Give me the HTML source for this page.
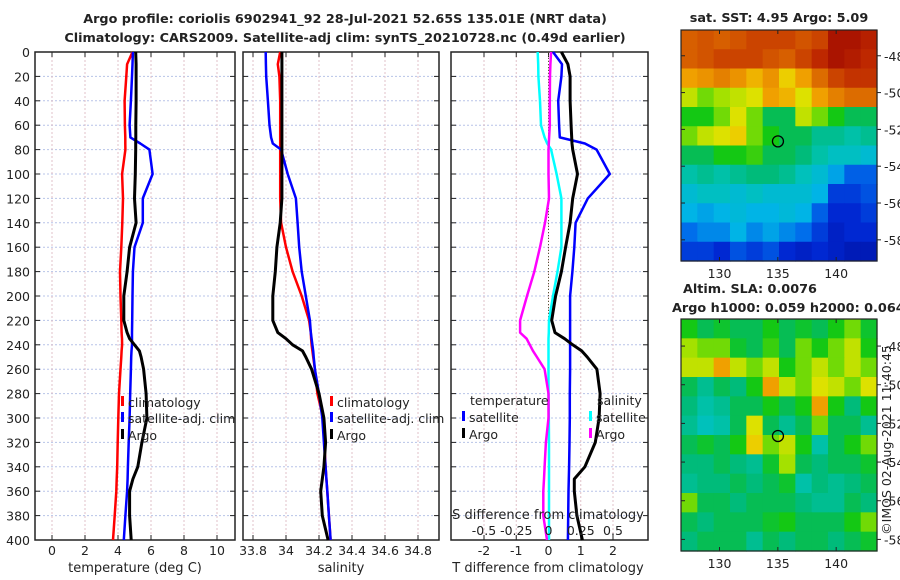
<!DOCTYPE html>
<html><head><meta charset="utf-8">
<style>
html,body{margin:0;padding:0;background:#fff;}
svg{display:block;font-family:"DejaVu Sans","Liberation Sans",sans-serif;}
</style></head>
<body>
<svg id="chart" width="900" height="580" viewBox="0 0 900 580"></svg>
<script>
// ---------- DATA ----------
const depths = [0,10,20,40,60,70,75,80,100,120,140,160,180,200,220,230,235,240,245,250,260,280,300,320,340,350,360,380,400];
const tempClim = [4.88,4.55,4.5,4.4,4.42,4.44,4.44,4.45,4.25,4.3,4.26,4.2,4.12,4.15,4.2,4.22,4.24,4.25,4.22,4.2,4.15,4.06,4.02,3.98,3.95,3.92,3.9,3.8,3.7];
const tempSat = [4.9,4.88,4.85,4.78,4.7,4.75,5.35,5.9,6.1,5.5,5.5,5.0,4.9,4.88,4.86,4.85,4.85,4.85,4.82,4.8,4.78,4.74,4.7,4.65,4.6,4.58,4.55,4.45,4.35];
const tempArgo = [5.07,5.1,5.1,5.1,5.08,5.08,5.07,5.07,5.05,5.0,5.1,4.7,4.55,4.35,4.35,4.55,4.7,5.0,5.3,5.4,5.55,5.7,5.75,5.45,5.2,4.9,4.7,4.7,4.8];
const salClim = [33.965,33.95,33.96,33.965,33.965,33.965,33.965,33.965,33.965,33.965,33.97,34.0,34.04,34.095,34.14,34.15,34.152,34.155,34.16,34.165,34.175,34.19,34.225,34.232,34.24,34.245,34.25,34.26,34.27];
const salSat = [33.877,33.878,33.88,33.89,33.9,33.91,33.92,33.97,34.01,34.06,34.07,34.08,34.095,34.12,34.145,34.15,34.155,34.16,34.165,34.168,34.175,34.2,34.22,34.23,34.24,34.245,34.25,34.26,34.27];
const salArgo = [33.975,33.975,33.975,33.975,33.975,33.975,33.975,33.975,33.975,33.975,33.965,33.945,33.935,33.92,33.92,33.95,34.0,34.04,34.1,34.12,34.155,34.2,34.23,34.24,34.23,34.22,34.21,34.22,34.255];
const dTsat = [0.14,0.42,0.4,0.3,0.33,0.35,1.13,1.49,1.9,1.22,0.84,0.8,0.74,0.67,0.67,0.67,0.67,0.67,0.67,0.67,0.67,0.66,0.66,0.65,0.64,0.63,0.62,0.61,0.6];
const dTargo = [0.4,0.6,0.67,0.67,0.7,0.72,0.73,0.75,0.9,0.75,0.67,0.53,0.4,0.22,0.1,0.2,0.5,0.75,1.03,1.2,1.5,1.6,1.57,1.45,1.13,0.8,0.8,0.88,1.05];
const dSsat = [-0.084,-0.08,-0.078,-0.066,-0.058,-0.03,-0.01,0.02,0.063,0.1,0.1,0.1,0.07,0.035,0.004,0.002,0.0,0.0,0.0,0.0,0.0,0.0,0.002,0.004,0.004,0.004,0.004,0.004,0.004];
const dSargo = [0.02,0.015,0.012,0.01,0.01,0.005,0.002,0.0,0.0,0.004,-0.027,-0.066,-0.11,-0.167,-0.22,-0.22,-0.17,-0.145,-0.12,-0.09,-0.03,0.0,0.0,-0.02,-0.03,-0.035,-0.04,-0.04,-0.012];
const depthTicks = [0,20,40,60,80,100,120,140,160,180,200,220,240,260,280,300,320,340,360,380,400];
const tempTicks = [0,2,4,6,8,10];
const salTicks = [33.8,34,34.2,34.4,34.6,34.8];
const salTickLabels = ["33.8","34","34.2","34.4","34.6","34.8"];
const dTTicks = [-2,-1,0,1,2];
const dSTicks = [-0.5,-0.25,0,0.25,0.5];
const dSTickLabels = ["-0.5","-0.25","0","0.25","0.5"];
const lonTicks = [130,135,140];
const latTicks = [-48,-50,-52,-54,-56,-58];
const argoLon = 135.01, argoLat = -52.65;
const sstGrid = [
[0.8,0.82,0.8,0.82,0.85,0.85,0.85,0.82,0.85,0.95,0.95,0.92],
[0.8,0.82,0.85,0.85,0.85,0.82,0.8,0.85,0.9,0.95,0.93,0.9],
[0.7,0.72,0.75,0.72,0.68,0.72,0.65,0.7,0.78,0.85,0.88,0.88],
[0.6,0.55,0.58,0.6,0.62,0.7,0.68,0.62,0.7,0.75,0.78,0.78],
[0.5,0.5,0.55,0.62,0.55,0.45,0.45,0.6,0.55,0.5,0.45,0.45],
[0.55,0.6,0.62,0.65,0.55,0.5,0.45,0.45,0.4,0.4,0.38,0.4],
[0.45,0.45,0.5,0.5,0.52,0.45,0.45,0.42,0.38,0.35,0.35,0.33],
[0.38,0.4,0.38,0.4,0.42,0.42,0.4,0.36,0.33,0.28,0.2,0.2],
[0.33,0.35,0.35,0.33,0.35,0.33,0.33,0.33,0.3,0.15,0.15,0.18],
[0.3,0.28,0.3,0.32,0.3,0.3,0.32,0.3,0.2,0.12,0.12,0.15],
[0.22,0.25,0.25,0.3,0.25,0.28,0.25,0.22,0.15,0.1,0.12,0.12],
[0.15,0.15,0.12,0.18,0.15,0.18,0.12,0.1,0.12,0.1,0.08,0.08]];
const slaGrid = [
[0.5,0.45,0.48,0.45,0.45,0.5,0.45,0.48,0.45,0.5,0.55,0.48],
[0.58,0.55,0.55,0.48,0.45,0.52,0.45,0.55,0.5,0.55,0.6,0.5],
[0.6,0.6,0.7,0.6,0.55,0.6,0.5,0.55,0.6,0.55,0.6,0.55],
[0.45,0.4,0.45,0.42,0.5,0.7,0.6,0.55,0.62,0.6,0.55,0.62],
[0.42,0.38,0.4,0.45,0.45,0.5,0.45,0.5,0.7,0.5,0.42,0.5],
[0.4,0.36,0.38,0.45,0.62,0.45,0.4,0.45,0.55,0.45,0.45,0.4],
[0.45,0.48,0.45,0.5,0.65,0.55,0.6,0.5,0.38,0.45,0.5,0.55],
[0.42,0.42,0.45,0.42,0.4,0.48,0.58,0.45,0.42,0.45,0.45,0.48],
[0.4,0.42,0.42,0.45,0.42,0.45,0.48,0.38,0.42,0.4,0.42,0.45],
[0.55,0.45,0.45,0.42,0.45,0.45,0.45,0.42,0.4,0.4,0.45,0.42],
[0.45,0.42,0.45,0.45,0.45,0.48,0.5,0.45,0.45,0.45,0.5,0.55],
[0.42,0.45,0.45,0.45,0.4,0.45,0.42,0.45,0.45,0.42,0.45,0.48]];

// ---------- HELPERS ----------
const NS = "http://www.w3.org/2000/svg";
const svg = document.getElementById("chart");
function mk(tag, attrs, parent) {
  const e = document.createElementNS(NS, tag);
  for (const k in attrs) e.setAttribute(k, attrs[k]);
  (parent || svg).appendChild(e);
  return e;
}
function txt(x, y, s, size, anchor, weight, parent) {
  const t = mk("text", {x: x, y: y, "font-size": size, "text-anchor": anchor || "middle", fill: "#222", "font-weight": weight || "normal"}, parent);
  t.textContent = s;
  return t;
}
const Y0 = 52, Y1 = 540;
const yD = d => Y0 + d * (Y1 - Y0) / 400;
function lin(d0, d1, r0, r1) { return v => r0 + (v - d0) * (r1 - r0) / (d1 - d0); }

function panel(name, x0, x1, xs, ticks, labels) {
  const g = mk("g", {});
  
  
  depthTicks.forEach(d => {
    const l = mk("line", {x1: x0, x2: x1, y1: yD(d), y2: yD(d), stroke: "#b8c4e8", "stroke-width": 1, "stroke-dasharray": "2,2"}, g);
    
    
  });
  ticks.forEach(t => {
    const x = xs(t);
    const l = mk("line", {x1: x, x2: x, y1: Y0, y2: Y1, stroke: "#e0c0c8", "stroke-width": 1, "stroke-dasharray": "2,2"}, g);
    
    
  });
  depthTicks.forEach(d => {
    mk("line", {x1: x0, x2: x0 + 5, y1: yD(d), y2: yD(d), stroke: "#222"}, g);
    mk("line", {x1: x1 - 5, x2: x1, y1: yD(d), y2: yD(d), stroke: "#222"}, g);
  });
  ticks.forEach((t, i) => {
    const x = xs(t);
    mk("line", {x1: x, x2: x, y1: Y1 - 5, y2: Y1, stroke: "#222"}, g);
    mk("line", {x1: x, x2: x, y1: Y0, y2: Y0 + 5, stroke: "#222"}, g);
    if (labels) {
      const t2 = txt(x, 555, labels[i], 12.5, "middle", "normal", g);
      
      
    }
  });
  const fr = mk("rect", {x: x0, y: Y0, width: x1 - x0, height: Y1 - Y0, fill: "none", stroke: "#222", "stroke-width": 1.5}, g);
  
  
  return g;
}
function series(name, vals, xs, color, w, parent) {
  const pts = vals.map((v, i) => xs(v).toFixed(1) + "," + yD(depths[i]).toFixed(1)).join(" ");
  const p = mk("polyline", {points: pts, fill: "none", stroke: color, "stroke-width": w, "stroke-linejoin": "round"}, parent);
  
  
}
function legendEntry(x, y, color, label, parent) {
  const g = mk("g", {}, parent);
  
  
  mk("rect", {x: x, y: y - 11, width: 3, height: 10, fill: color}, g);
  txt(x + 7, y, label, 12.5, "start", "normal", g);
}

// ---------- TITLES ----------
let t = txt(345, 23, "Argo profile: coriolis 6902941_92 28-Jul-2021 52.65S 135.01E (NRT data)", 12.8, "middle", "bold");


t = txt(345, 42, "Climatology: CARS2009. Satellite-adj clim: synTS_20210728.nc (0.49d earlier)", 12.8, "middle", "bold");



depthTicks.forEach(d => {
  const l = txt(30, yD(d) + 5, String(d), 12.5, "end");
  
  
});

// ---------- PANEL 1 ----------
const xT = lin(0, 10, 52, 217);
const p1 = panel("temperature-panel", 35, 235, xT, tempTicks, tempTicks.map(String));
series("temperature-climatology-line", tempClim, xT, "#ff0000", 2.5, p1);
series("temperature-satellite-line", tempSat, xT, "#0000ff", 2.5, p1);
series("temperature-argo-line", tempArgo, xT, "#000000", 3, p1);
legendEntry(121, 407, "#ff0000", "climatology", p1);
legendEntry(121, 423, "#0000ff", "satellite-adj. clim", p1);
legendEntry(121, 440, "#000000", "Argo", p1);
t = txt(135, 572, "temperature (deg C)", 13);



// ---------- PANEL 2 ----------
const xS = lin(33.8, 34.8, 253, 418);
const p2 = panel("salinity-panel", 243, 439, xS, salTicks, salTickLabels);
series("salinity-climatology-line", salClim, xS, "#ff0000", 2.5, p2);
series("salinity-satellite-line", salSat, xS, "#0000ff", 2.5, p2);
series("salinity-argo-line", salArgo, xS, "#000000", 3, p2);
legendEntry(330, 407, "#ff0000", "climatology", p2);
legendEntry(330, 423, "#0000ff", "satellite-adj. clim", p2);
legendEntry(330, 440, "#000000", "Argo", p2);
t = txt(341, 572, "salinity", 13);



// ---------- PANEL 3 ----------
const xdT = lin(0, 2, 548.5, 613);
const xdS = lin(0, 0.5, 548.5, 613);
const p3 = panel("difference-panel", 451, 648, xdT, dTTicks, dTTicks.map(String));
const zl = mk("line", {x1: xdT(0), x2: xdT(0), y1: Y0, y2: yD(230), stroke: "#553", "stroke-width": 1, "stroke-dasharray": "1,2"}, p3);


series("salinity-diff-satellite-line", dSsat, xdS, "#00ffff", 2.5, p3);
series("salinity-diff-argo-line", dSargo, xdS, "#ff00ff", 2.5, p3);
series("temperature-diff-satellite-line", dTsat, xdT, "#0000ff", 2.5, p3);
series("temperature-diff-argo-line", dTargo, xdT, "#000000", 3, p3);
t = txt(470, 405, "temperature", 12.5, "start", "normal", p3);


t = txt(597, 405, "salinity", 12.5, "start", "normal", p3);


legendEntry(462, 422, "#0000ff", "satellite", p3);
legendEntry(462, 439, "#000000", "Argo", p3);
legendEntry(589, 422, "#00ffff", "satellite", p3);
legendEntry(589, 439, "#ff00ff", "Argo", p3);
t = txt(548, 519, "S difference from climatology", 13);


dSTicks.forEach((v, i) => {
  const l = txt(xdS(v), 535, dSTickLabels[i], 12.5);
  
  
});
t = txt(548, 572, "T difference from climatology", 13);



// ---------- MAPS ----------
const cmapStops = [[0,[0,0,130]],[0.12,[0,40,210]],[0.22,[0,110,235]],[0.3,[0,180,230]],[0.37,[0,195,180]],[0.43,[0,185,110]],[0.5,[20,200,20]],[0.57,[150,225,0]],[0.63,[235,225,0]],[0.7,[240,160,0]],[0.8,[215,95,0]],[0.9,[190,40,0]],[1,[150,0,0]]];
function cmap(v) {
  for (let i = 1; i < cmapStops.length; i++) {
    if (v <= cmapStops[i][0]) {
      const a = cmapStops[i-1], b = cmapStops[i];
      const f = (v - a[0]) / (b[0] - a[0]);
      const c = a[1].map((x, k) => Math.round(x + f * (b[1][k] - x)));
      return "rgb(" + c.join(",") + ")";
    }
  }
  return "rgb(150,0,0)";
}
function map(name, grid, x0, x1, y0, y1, latTop, latBot) {
  const g = mk("g", {});
  
  
  const lonX = lin(126.7, 143.5, x0, x1);
  const latY = lin(latTop, latBot, y0, y1);
  const rows = grid.length, cols = grid[0].length;
  const cw = (x1 - x0) / cols, ch = (y1 - y0) / rows;
  grid.forEach((row, r) => row.forEach((v, c) => {
    const cell = mk("rect", {x: x0 + c * cw, y: y0 + r * ch, width: cw + 0.6, height: ch + 0.6, fill: cmap(v)}, g);
    
    
  }));
  mk("rect", {x: x0, y: y0, width: x1 - x0, height: y1 - y0, fill: "none", stroke: "#222", "stroke-width": 1.2}, g);
  lonTicks.forEach(lo => {
    const x = lonX(lo);
    mk("line", {x1: x, x2: x, y1: y1, y2: y1 - 4, stroke: "#222"}, g);
    mk("line", {x1: x, x2: x, y1: y0, y2: y0 + 4, stroke: "#222"}, g);
    const l = txt(x, y1 + 17, String(lo), 12.5, "middle", "normal", g);
    
    
  });
  latTicks.forEach(la => {
    const y = latY(la);
    mk("line", {x1: x1, x2: x1 + 4, y1: y, y2: y, stroke: "#222"}, g);
    mk("line", {x1: x0, x2: x0 + 4, y1: y, y2: y, stroke: "#222"}, g);
    const l = txt(x1 + 7, y + 5, String(la), 12.5, "start", "normal", g);
    
    
  });
  const m = mk("circle", {cx: lonX(argoLon), cy: latY(argoLat), r: 5.5, fill: "none", stroke: "#000", "stroke-width": 1.3}, g);
  
  
}
map("sst-map", sstGrid, 681, 877, 30, 261, -46.6, -59.15);
map("sla-map", slaGrid, 681, 877, 319, 551, -46.6, -58.6);
t = txt(779, 22, "sat. SST: 4.95 Argo: 5.09", 12.8, "middle", "bold");


t = txt(683, 293, "Altim. SLA: 0.0076", 12.8, "start", "bold");


t = txt(672, 312, "Argo h1000: 0.059 h2000: 0.064", 12.8, "start", "bold");


t = txt(0, 0, "©IMOS 02-Aug-2021 11:40:45", 12.5, "middle");
t.setAttribute("transform", "translate(891,440) rotate(-90)");


</script>
</body></html>
